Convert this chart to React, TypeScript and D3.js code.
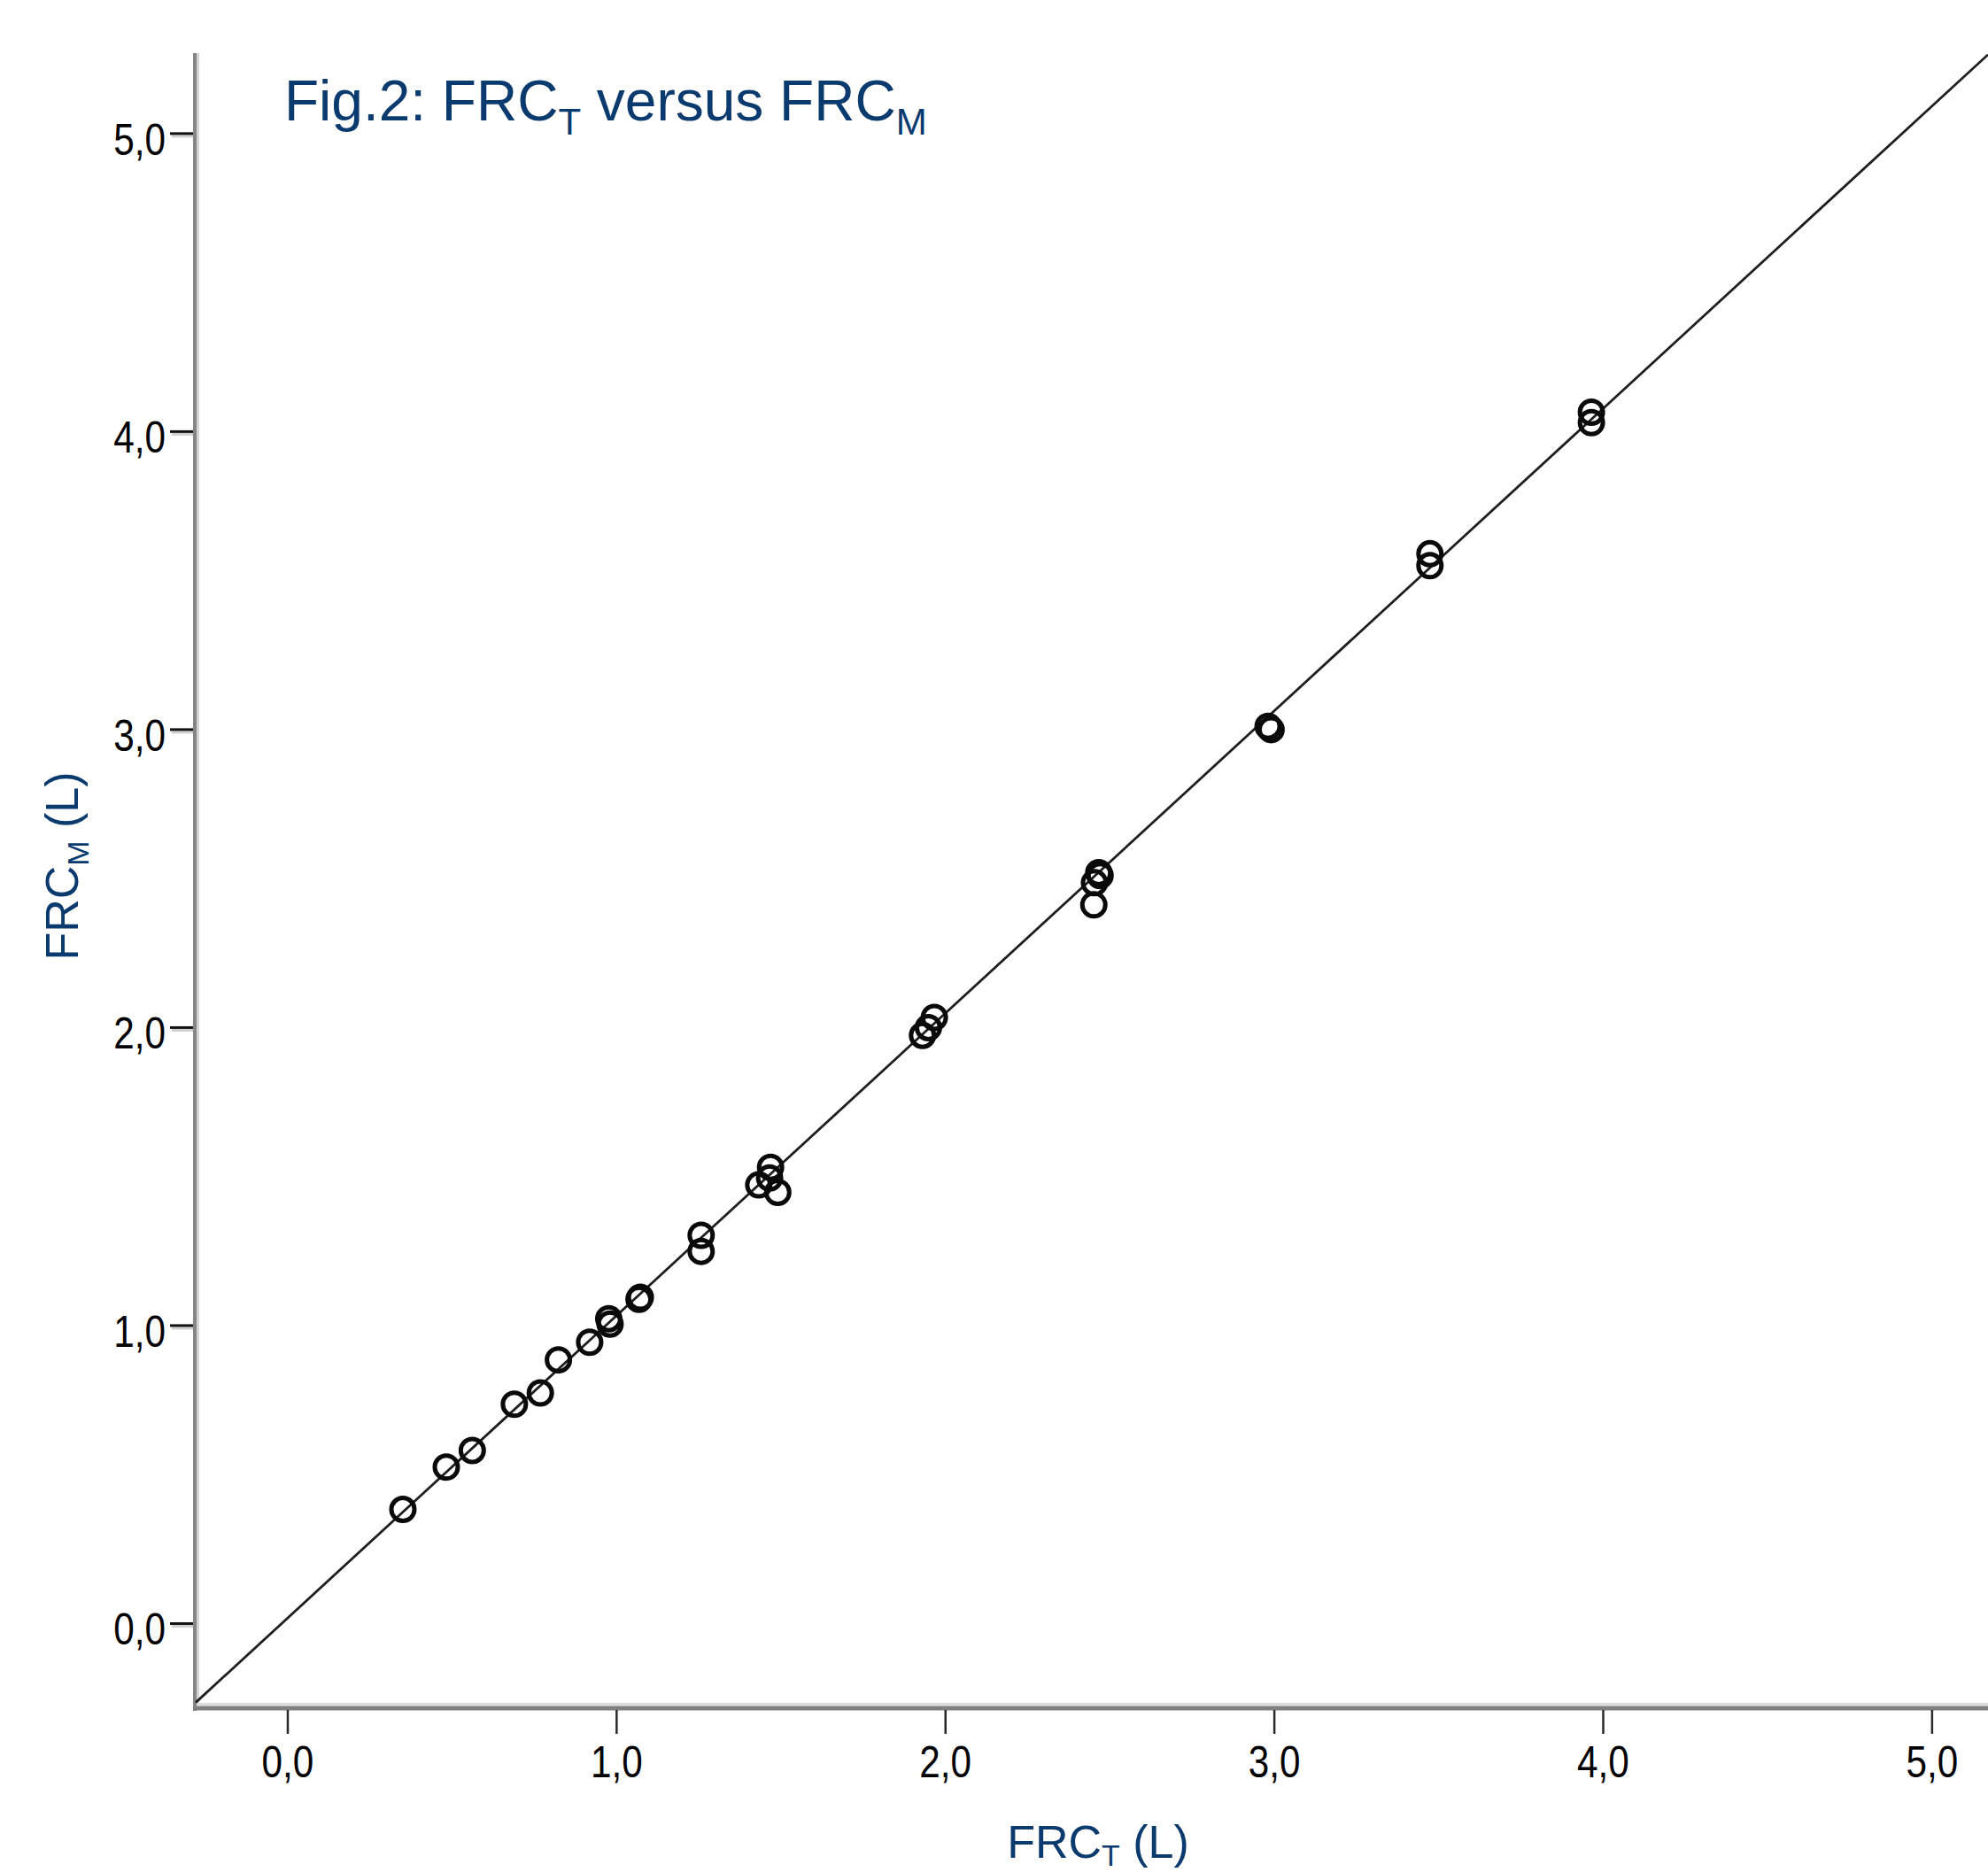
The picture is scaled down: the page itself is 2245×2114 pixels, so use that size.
import React, { useEffect, useRef } from "react";
import * as d3 from "d3";

const frcT = [
  0.35, 0.482, 0.561, 0.689, 0.768, 0.823, 0.918, 0.976, 0.98, 1.068, 1.072,
  1.257, 1.257, 1.432, 1.468, 1.465, 1.49, 1.93, 1.948, 1.966, 2.451, 2.453,
  2.466, 2.47, 2.981, 2.99, 3.473, 3.473, 3.964, 3.964,
];
const frcM = [
  0.383, 0.525, 0.581, 0.736, 0.774, 0.885, 0.944, 1.023, 1.005, 1.088, 1.095,
  1.303, 1.249, 1.472, 1.531, 1.495, 1.447, 1.974, 2.0, 2.034, 2.412, 2.486,
  2.52, 2.51, 3.011, 3.0, 3.59, 3.55, 4.065, 4.03,
];
const fitLineX = [-0.28, 5.17];
const fitLineY = [-0.265, 5.265];
const xTicks = [0, 1, 2, 3, 4, 5];
const yTicks = [0, 1, 2, 3, 4, 5];

const W = 2245;
const H = 2114;
const FONT = "'Liberation Sans', Arial, Helvetica, sans-serif";
const BLUE = "#0b3b6e";

export default function App() {
  const svgRef = useRef<SVGSVGElement>(null);

  useEffect(() => {
    const svg = d3.select(svgRef.current);
    svg.selectAll("*").remove();

    const left = 221;
    const bottom = 1926;
    const top = 60;

    const x = d3.scaleLinear().domain([-0.28, 5.17]).range([left, W]);
    const y = d3.scaleLinear().domain([-0.275, 5.27]).range([bottom, top]);
    const fmt = (d: number) => d3.format(".1f")(d).replace(".", ",");

    svg.append("rect").attr("width", W).attr("height", H).attr("fill", "#fff");

    // axes lines (SPSS style double gray)
    svg.append("line")
      .attr("x1", left - 1).attr("x2", left - 1)
      .attr("y1", top).attr("y2", bottom + 6)
      .attr("stroke", "#858585").attr("stroke-width", 4);
    svg.append("line")
      .attr("x1", left + 2.5).attr("x2", left + 2.5)
      .attr("y1", top).attr("y2", bottom - 2)
      .attr("stroke", "#d4d4d4").attr("stroke-width", 3);
    svg.append("line")
      .attr("x1", left + 1).attr("x2", W)
      .attr("y1", bottom - 1.5).attr("y2", bottom - 1.5)
      .attr("stroke", "#dcdcdc").attr("stroke-width", 3);
    svg.append("line")
      .attr("x1", left - 3).attr("x2", W)
      .attr("y1", bottom + 3).attr("y2", bottom + 3)
      .attr("stroke", "#808080").attr("stroke-width", 5);

    // x ticks
    const xt = svg.append("g");
    xt.selectAll("line")
      .data(xTicks)
      .enter()
      .append("line")
      .attr("x1", d => x(d)).attr("x2", d => x(d))
      .attr("y1", bottom + 5).attr("y2", bottom + 32)
      .attr("stroke", "#2a2a2a").attr("stroke-width", 2.5);
    xt.selectAll("text")
      .data(xTicks)
      .enter()
      .append("text")
      .attr("transform", d => `translate(${x(d)},2007) scale(0.9,1.05)`)
      .attr("text-anchor", "middle")
      .style("font-family", FONT)
      .style("font-size", "47px")
      .attr("fill", "#000")
      .text(fmt);

    // y ticks
    const yt = svg.append("g");
    yt.selectAll("line.shadow")
      .data(yTicks)
      .enter()
      .append("line")
      .attr("class", "shadow")
      .attr("x1", 194).attr("x2", left - 3)
      .attr("y1", d => y(d) + 3).attr("y2", d => y(d) + 3)
      .attr("stroke", "#d0d0d0").attr("stroke-width", 3);
    yt.selectAll("line.tick")
      .data(yTicks)
      .enter()
      .append("line")
      .attr("class", "tick")
      .attr("x1", 192).attr("x2", left - 3)
      .attr("y1", d => y(d)).attr("y2", d => y(d))
      .attr("stroke", "#111").attr("stroke-width", 3);
    yt.selectAll("text")
      .data(yTicks)
      .enter()
      .append("text")
      .attr("transform", d => `translate(187,${y(d) + 24}) scale(0.9,1.05)`)
      .attr("text-anchor", "end")
      .style("font-family", FONT)
      .style("font-size", "47px")
      .attr("fill", "#000")
      .text(fmt);

    // reference / fit line
    const lineGen = d3.line<number>()
      .x(d => x(d))
      .y((d, i) => y(fitLineY[i]));
    svg.append("path")
      .datum(fitLineX)
      .attr("fill", "none")
      .attr("stroke", "#1e1e1e")
      .attr("stroke-width", 2.8)
      .attr("d", lineGen);

    // points
    svg.append("g")
      .selectAll("circle")
      .data(frcT)
      .enter()
      .append("circle")
      .attr("cx", d => x(d))
      .attr("cy", (d, i) => y(frcM[i]))
      .attr("r", 13)
      .attr("fill", "none")
      .attr("stroke", "#0a0a0a")
      .attr("stroke-width", 5);

    // title
    const title = svg.append("text")
      .attr("x", 321)
      .attr("y", 136)
      .attr("fill", BLUE)
      .style("font-family", FONT)
      .style("font-size", "64px");
    title.append("tspan").text("Fig.2: FRC");
    title.append("tspan").attr("dy", 16).style("font-size", "42px").text("T");
    title.append("tspan").attr("dy", -16).text(" versus FRC");
    title.append("tspan").attr("dy", 16).style("font-size", "42px").text("M");

    // x label
    const xl = svg.append("text")
      .attr("x", 1240)
      .attr("y", 2098)
      .attr("text-anchor", "middle")
      .attr("fill", BLUE)
      .style("font-family", FONT)
      .style("font-size", "52px");
    xl.append("tspan").text("FRC");
    xl.append("tspan").attr("dy", 9).style("font-size", "34px").text("T");
    xl.append("tspan").attr("dy", -9).text(" (L)");

    // y label
    const yl = svg.append("text")
      .attr("transform", "translate(88,978) rotate(-90)")
      .attr("text-anchor", "middle")
      .attr("fill", BLUE)
      .style("font-family", FONT)
      .style("font-size", "52px");
    yl.append("tspan").text("FRC");
    yl.append("tspan").attr("dy", 12).style("font-size", "34px").text("M");
    yl.append("tspan").attr("dy", -12).text(" (L)");
  }, []);

  return (
    <svg
      ref={svgRef}
      width={W}
      height={H}
      style={{ position: "absolute", left: 0, top: 0, display: "block" }}
    />
  );
}
